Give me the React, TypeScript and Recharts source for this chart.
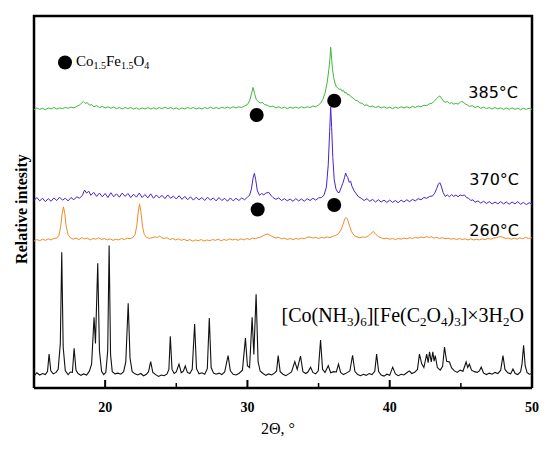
import React from "react";
import {
  ComposedChart,
  Line,
  Scatter,
  XAxis,
  YAxis,
  Customized,
} from "recharts";

// 2Θ positions of the axis ticks (labels only on the multiples of ten)
const xTicks = [20, 25, 30, 35, 40, 45, 50];

// outline of the plot box, in axis units (left, top, right edges)
const boxOutline: [number, number][] = [
  [15, 0],
  [15, 100],
  [50, 100],
  [50, 0],
];

// [Co(NH3)6][Fe(C2O4)3]·3H2O precursor
const precursor: [number, number][] = [
  [15.0, 3.2], [15.2, 4.1], [15.4, 3.5], [15.6, 3.9], [15.8, 3.6], [15.95, 4.5], [16.06, 9.1], [16.18, 4.6],
  [16.35, 3.8], [16.55, 4.2], [16.7, 5.0], [16.85, 12], [16.95, 36.5], [17.05, 11], [17.2, 4.6], [17.4, 3.6],
  [17.55, 4.3], [17.7, 4.2], [17.82, 10.7], [17.95, 4.8], [18.1, 3.9], [18.3, 3.4], [18.5, 3.8], [18.7, 3.5],
  [18.9, 4.6], [19.05, 6.5], [19.22, 19.0], [19.32, 12], [19.48, 33.5], [19.6, 10], [19.75, 4.5], [19.9, 3.6],
  [20.05, 4.2], [20.18, 10], [20.28, 38.3], [20.38, 9], [20.5, 4.4], [20.7, 3.8], [20.9, 4.0], [21.1, 3.7],
  [21.3, 4.4], [21.45, 7], [21.62, 22.8], [21.75, 8], [21.9, 4.4], [22.1, 3.8], [22.3, 3.5], [22.5, 3.9],
  [22.7, 3.3], [22.9, 3.7], [23.05, 4.4], [23.2, 7.1], [23.35, 4.2], [23.55, 3.6], [23.75, 3.1], [23.95, 3.5],
  [24.15, 3.3], [24.35, 3.8], [24.48, 5], [24.58, 13.9], [24.7, 5], [24.85, 3.9], [25.0, 4.3], [25.19, 6.4],
  [25.35, 4.1], [25.5, 4.5], [25.63, 5.9], [25.78, 4.2], [25.95, 3.9], [26.12, 5], [26.29, 17.2], [26.42, 5.2],
  [26.6, 3.8], [26.8, 4.1], [27.0, 3.7], [27.18, 5.2], [27.32, 18.8], [27.45, 5.5], [27.62, 4.0], [27.8, 3.7],
  [28.0, 4.0], [28.2, 3.6], [28.4, 4.3], [28.64, 8.7], [28.8, 4.6], [29.0, 3.7], [29.2, 3.5], [29.4, 3.9],
  [29.65, 4.8], [29.86, 13.4], [30.0, 6], [30.15, 5.5], [30.33, 19.0], [30.45, 9], [30.61, 25.2], [30.75, 7],
  [30.9, 4.5], [31.1, 3.9], [31.3, 3.4], [31.5, 3.8], [31.7, 3.5], [31.9, 4.0], [32.05, 4.6], [32.16, 8.7],
  [32.3, 4.4], [32.5, 3.7], [32.7, 3.3], [32.9, 3.8], [33.1, 4.3], [33.33, 7.1], [33.5, 5.0], [33.73, 8.6],
  [33.9, 4.4], [34.1, 3.9], [34.25, 4.3], [34.44, 5.6], [34.6, 4.2], [34.8, 3.8], [34.98, 4.6], [35.14, 12.9],
  [35.28, 5.0], [35.45, 4.2], [35.68, 6.0], [35.85, 4.1], [36.05, 4.4], [36.25, 4.3], [36.4, 6.4], [36.55, 4.2],
  [36.75, 3.6], [36.95, 4.0], [37.2, 4.6], [37.39, 8.8], [37.55, 4.5], [37.75, 3.6], [37.95, 3.3], [38.15, 3.7],
  [38.35, 3.4], [38.55, 3.9], [38.75, 3.6], [38.95, 4.5], [39.08, 9.1], [39.22, 4.4], [39.4, 3.5], [39.6, 3.2],
  [39.8, 3.7], [40.0, 3.4], [40.21, 5.6], [40.4, 3.8], [40.6, 3.3], [40.8, 3.7], [41.0, 3.5], [41.2, 4.1],
  [41.38, 4.6], [41.55, 3.9], [41.75, 4.2], [41.95, 5.0], [42.09, 9.1], [42.25, 6.5], [42.4, 5.5], [42.6, 9.1],
  [42.7, 6.8], [42.8, 9.7], [42.92, 7.0], [43.03, 9.7], [43.12, 7.2], [43.2, 8.7], [43.35, 5.5], [43.55, 4.8],
  [43.72, 5.8], [43.85, 11.0], [44.0, 7.2], [44.2, 7.0], [44.35, 5.4], [44.55, 4.6], [44.75, 4.2], [44.95, 4.8],
  [45.15, 4.5], [45.37, 7.0], [45.48, 5.5], [45.6, 6.4], [45.75, 4.8], [45.95, 4.4], [46.15, 4.2], [46.3, 4.6],
  [46.43, 5.6], [46.6, 4.0], [46.8, 3.6], [47.0, 4.0], [47.2, 3.7], [47.4, 4.2], [47.6, 3.9], [47.8, 4.8],
  [47.96, 8.7], [48.1, 5.0], [48.3, 4.1], [48.5, 3.8], [48.66, 5.1], [48.82, 3.9], [49.0, 3.6], [49.2, 4.4],
  [49.3, 6.5], [49.41, 11.5], [49.52, 6.0], [49.65, 4.2], [49.8, 3.7], [50.0, 3.9],
];

// 260 °C
const t260: [number, number][] = [
  [15.0, 39.5], [15.2, 39.9], [15.4, 39.6], [15.6, 40.0], [15.8, 39.7], [16.0, 40.1], [16.2, 39.8], [16.4, 40.2],
  [16.6, 40.3], [16.75, 41.0], [16.88, 43.5], [16.98, 47], [17.07, 48.7], [17.16, 47], [17.26, 43.5], [17.4, 41.2],
  [17.55, 40.4], [17.75, 40.0], [17.95, 40.3], [18.15, 39.9], [18.35, 40.4], [18.55, 40.1], [18.75, 40.3], [18.95, 39.8],
  [19.15, 40.2], [19.35, 40.0], [19.55, 40.4], [19.75, 39.9], [19.95, 40.2], [20.15, 39.8], [20.35, 40.1], [20.55, 39.7],
  [20.75, 40.0], [20.95, 39.8], [21.15, 40.2], [21.35, 39.9], [21.55, 40.3], [21.75, 40.1], [21.95, 40.5], [22.1, 41.2],
  [22.22, 43.5], [22.33, 47.5], [22.42, 49.5], [22.51, 47.5], [22.62, 43.5], [22.75, 41.3], [22.9, 40.5], [23.1, 40.2],
  [23.3, 40.4], [23.5, 40.6], [23.7, 40.5], [23.83, 40.9], [23.95, 40.4], [24.15, 40.2], [24.35, 40.4], [24.55, 39.9],
  [24.75, 40.2], [24.95, 39.8], [25.15, 40.1], [25.35, 39.7], [25.55, 40.0], [25.75, 39.6], [25.95, 39.9], [26.15, 39.5],
  [26.35, 39.8], [26.55, 39.6], [26.75, 39.9], [26.95, 39.5], [27.15, 39.8], [27.35, 39.6], [27.55, 39.9], [27.75, 39.7],
  [27.95, 40.0], [28.15, 39.6], [28.35, 39.9], [28.55, 39.7], [28.75, 40.1], [28.95, 39.8], [29.15, 40.0], [29.35, 39.7],
  [29.55, 40.1], [29.75, 39.8], [29.95, 40.2], [30.15, 39.9], [30.35, 40.3], [30.55, 40.1], [30.75, 40.4], [30.95, 40.6],
  [31.15, 41.0], [31.3, 41.3], [31.43, 41.4], [31.6, 41.0], [31.8, 40.6], [32.0, 40.3], [32.2, 40.5], [32.4, 40.1],
  [32.6, 40.3], [32.8, 39.9], [33.0, 40.2], [33.2, 39.9], [33.4, 40.2], [33.6, 40.0], [33.8, 40.3], [34.0, 40.1],
  [34.2, 40.5], [34.4, 40.6], [34.6, 40.3], [34.8, 40.5], [35.0, 40.2], [35.2, 40.5], [35.4, 40.3], [35.6, 40.6],
  [35.8, 40.4], [36.0, 40.8], [36.2, 41.0], [36.4, 41.5], [36.58, 42.5], [36.72, 44.0], [36.85, 45.5], [36.95, 45.8],
  [37.05, 45.2], [37.18, 43.5], [37.32, 42.0], [37.5, 41.0], [37.7, 40.6], [37.9, 40.4], [38.1, 40.6], [38.3, 40.5],
  [38.5, 40.9], [38.68, 41.5], [38.85, 42.1], [39.0, 41.4], [39.2, 40.7], [39.4, 40.4], [39.6, 40.1], [39.8, 40.3],
  [40.0, 40.0], [40.2, 40.2], [40.4, 39.9], [40.6, 40.2], [40.8, 40.0], [41.0, 40.3], [41.2, 40.1], [41.4, 40.4],
  [41.6, 40.2], [41.8, 40.5], [42.0, 40.3], [42.2, 40.6], [42.4, 40.4], [42.6, 40.7], [42.8, 40.4], [42.9, 40.7],
  [43.1, 40.3], [43.3, 40.5], [43.5, 40.2], [43.7, 40.4], [43.9, 40.1], [44.1, 40.3], [44.3, 40.0], [44.5, 40.2],
  [44.7, 39.9], [44.9, 40.2], [45.1, 39.9], [45.3, 40.1], [45.5, 39.8], [45.7, 40.1], [45.9, 39.8], [46.1, 40.0],
  [46.3, 39.8], [46.5, 40.1], [46.7, 39.9], [46.9, 40.2], [47.1, 40.0], [47.3, 40.3], [47.5, 40.4], [47.65, 40.6],
  [47.8, 40.7], [47.95, 40.5], [48.15, 40.2], [48.35, 40.3], [48.55, 40.0], [48.75, 40.3], [48.95, 40.0], [49.15, 40.4],
  [49.35, 40.1], [49.55, 40.5], [49.75, 40.2], [50.0, 40.4],
];

// 370 °C
const t370: [number, number][] = [
  [15.0, 50.4], [15.2, 51.2], [15.4, 50.3], [15.6, 51.0], [15.8, 50.1], [16.0, 50.9], [16.2, 50.2], [16.4, 51.1],
  [16.6, 50.4], [16.8, 51.3], [17.0, 50.5], [17.2, 51.0], [17.4, 50.3], [17.6, 51.2], [17.8, 50.6], [18.0, 51.4],
  [18.2, 51.0], [18.4, 51.8], [18.55, 53.2], [18.7, 52.4], [18.85, 52.9], [19.0, 51.8], [19.2, 52.6], [19.4, 51.5],
  [19.6, 52.4], [19.8, 51.4], [20.0, 52.3], [20.2, 51.2], [20.4, 52.5], [20.6, 51.4], [20.8, 52.2], [21.0, 51.3],
  [21.2, 52.4], [21.4, 51.5], [21.6, 52.3], [21.8, 51.2], [22.0, 52.1], [22.2, 51.3], [22.4, 52.4], [22.6, 51.2],
  [22.8, 52.0], [23.0, 51.1], [23.2, 52.2], [23.4, 51.0], [23.6, 51.9], [23.8, 51.1], [24.0, 51.8], [24.2, 50.9],
  [24.4, 51.9], [24.6, 51.0], [24.8, 51.6], [25.0, 50.8], [25.2, 51.7], [25.4, 50.7], [25.6, 51.5], [25.8, 50.6],
  [26.0, 51.4], [26.2, 50.5], [26.4, 51.3], [26.6, 50.6], [26.8, 51.2], [27.0, 50.4], [27.2, 51.3], [27.4, 50.5],
  [27.6, 51.1], [27.8, 50.3], [28.0, 51.2], [28.2, 50.4], [28.4, 51.0], [28.6, 50.2], [28.8, 51.1], [29.0, 50.3],
  [29.2, 51.0], [29.4, 50.4], [29.6, 51.1], [29.8, 50.6], [30.0, 51.3], [30.15, 51.8], [30.28, 53.5], [30.4, 56.5],
  [30.49, 57.7], [30.58, 56.0], [30.7, 53.0], [30.85, 51.8], [31.0, 52.3], [31.15, 51.9], [31.3, 52.4], [31.5, 52.6],
  [31.65, 51.8], [31.8, 51.2], [32.0, 50.7], [32.2, 51.1], [32.4, 50.4], [32.6, 50.9], [32.8, 50.3], [33.0, 50.8],
  [33.2, 50.2], [33.4, 50.9], [33.6, 50.3], [33.8, 50.8], [34.0, 50.2], [34.2, 50.9], [34.4, 50.4], [34.6, 51.0],
  [34.8, 50.5], [35.0, 51.1], [35.2, 51.2], [35.38, 51.8], [35.55, 54.0], [35.68, 60.0], [35.78, 69.0], [35.85, 75.5],
  [35.92, 70.0], [36.0, 62.0], [36.1, 56.0], [36.22, 53.5], [36.35, 52.6], [36.45, 52.5], [36.58, 53.8], [36.7, 55.0],
  [36.82, 56.5], [36.9, 57.8], [36.98, 57.0], [37.05, 56.6], [37.15, 55.3], [37.25, 55.6], [37.35, 54.2], [37.5, 53.0],
  [37.65, 52.2], [37.8, 51.4], [38.0, 51.0], [38.2, 50.4], [38.4, 50.9], [38.6, 50.2], [38.8, 50.7], [39.0, 50.0],
  [39.2, 50.6], [39.4, 50.0], [39.6, 50.5], [39.8, 49.9], [40.0, 50.5], [40.2, 49.9], [40.4, 50.4], [40.6, 49.8],
  [40.8, 50.5], [41.0, 50.0], [41.2, 50.6], [41.4, 50.1], [41.6, 50.7], [41.8, 50.3], [42.0, 50.9], [42.2, 50.6],
  [42.4, 51.2], [42.6, 51.0], [42.8, 51.5], [43.0, 51.6], [43.15, 52.3], [43.3, 53.6], [43.42, 54.8], [43.52, 55.2],
  [43.62, 54.3], [43.75, 52.6], [43.9, 51.5], [44.05, 51.9], [44.2, 51.4], [44.35, 52.0], [44.5, 51.5], [44.65, 51.9],
  [44.8, 51.4], [44.95, 51.9], [45.1, 51.7], [45.25, 51.9], [45.4, 51.2], [45.55, 51.0], [45.7, 50.4], [45.85, 50.6],
  [46.0, 49.9], [46.2, 50.3], [46.4, 49.7], [46.6, 50.2], [46.8, 49.6], [47.0, 50.1], [47.2, 49.5], [47.4, 50.0],
  [47.6, 49.5], [47.8, 50.1], [48.0, 49.5], [48.2, 50.0], [48.4, 49.4], [48.6, 50.0], [48.8, 49.5], [49.0, 50.1],
  [49.2, 49.4], [49.4, 49.9], [49.6, 49.3], [49.8, 49.8], [50.0, 49.4],
];

// 385 °C
const t385: [number, number][] = [
  [15.0, 74.8], [15.2, 75.3], [15.4, 74.9], [15.6, 75.2], [15.8, 74.8], [16.0, 75.3], [16.2, 75.0], [16.4, 75.4],
  [16.6, 75.0], [16.8, 75.3], [17.0, 75.1], [17.2, 75.4], [17.4, 75.2], [17.6, 75.5], [17.8, 75.3], [18.0, 75.7],
  [18.2, 76.1], [18.35, 76.6], [18.47, 77.0], [18.6, 76.5], [18.75, 76.7], [18.9, 76.0], [19.05, 76.2], [19.2, 75.6],
  [19.4, 75.9], [19.6, 75.4], [19.8, 75.7], [20.0, 75.3], [20.2, 75.6], [20.4, 75.2], [20.6, 75.5], [20.8, 75.1],
  [21.0, 75.4], [21.2, 75.0], [21.4, 75.4], [21.6, 75.1], [21.8, 75.4], [22.0, 75.0], [22.2, 75.3], [22.4, 74.9],
  [22.6, 75.3], [22.8, 75.0], [23.0, 75.4], [23.2, 75.0], [23.4, 75.3], [23.6, 75.0], [23.8, 75.4], [24.0, 75.1],
  [24.2, 75.5], [24.4, 75.1], [24.6, 75.4], [24.8, 75.0], [25.0, 75.3], [25.2, 74.9], [25.4, 75.3], [25.6, 75.0],
  [25.8, 75.4], [26.0, 75.1], [26.2, 75.4], [26.4, 75.0], [26.6, 75.3], [26.8, 75.0], [27.0, 75.4], [27.2, 75.1],
  [27.4, 75.5], [27.6, 75.1], [27.8, 75.4], [28.0, 75.1], [28.2, 75.5], [28.4, 75.2], [28.6, 75.5], [28.8, 75.2],
  [29.0, 75.6], [29.2, 75.3], [29.4, 75.6], [29.6, 75.4], [29.8, 75.8], [30.0, 76.2], [30.15, 77.2], [30.28, 79.0],
  [30.4, 80.8], [30.5, 79.2], [30.62, 77.6], [30.75, 77.0], [30.9, 76.6], [31.05, 76.8], [31.2, 76.2], [31.4, 76.0],
  [31.6, 75.6], [31.8, 75.8], [32.0, 75.3], [32.2, 75.6], [32.4, 75.2], [32.6, 75.5], [32.8, 75.1], [33.0, 75.5],
  [33.2, 75.2], [33.4, 75.5], [33.6, 75.2], [33.8, 75.6], [34.0, 75.3], [34.2, 75.6], [34.4, 75.4], [34.6, 75.8],
  [34.8, 75.6], [35.0, 76.1], [35.15, 76.6], [35.3, 77.6], [35.45, 79.2], [35.6, 82.0], [35.72, 85.5], [35.8, 88.5],
  [35.85, 91.6], [35.9, 89.5], [35.97, 86.0], [36.06, 83.5], [36.15, 82.0], [36.25, 81.0], [36.35, 80.6], [36.45, 80.3],
  [36.55, 80.4], [36.65, 79.8], [36.75, 80.0], [36.85, 79.3], [36.95, 79.4], [37.05, 78.8], [37.15, 78.9], [37.3, 78.2],
  [37.45, 77.9], [37.6, 77.3], [37.75, 77.2], [37.9, 76.6], [38.05, 76.6], [38.2, 76.0], [38.4, 76.1], [38.6, 75.6],
  [38.8, 75.8], [39.0, 75.4], [39.2, 75.7], [39.4, 75.3], [39.6, 75.6], [39.8, 75.2], [40.0, 75.5], [40.2, 75.1],
  [40.4, 75.5], [40.6, 75.2], [40.8, 75.6], [41.0, 75.3], [41.2, 75.6], [41.4, 75.3], [41.6, 75.7], [41.8, 75.4],
  [42.0, 75.8], [42.2, 75.6], [42.4, 76.0], [42.6, 75.9], [42.8, 76.4], [43.0, 76.6], [43.15, 77.2], [43.3, 77.8],
  [43.42, 78.3], [43.52, 78.5], [43.62, 78.0], [43.75, 77.2], [43.9, 76.8], [44.05, 77.0], [44.2, 76.5], [44.35, 76.7],
  [44.5, 76.3], [44.65, 76.5], [44.8, 76.3], [44.95, 76.8], [45.05, 77.0], [45.15, 76.9], [45.3, 76.4], [45.45, 76.1],
  [45.6, 75.7], [45.8, 75.9], [46.0, 75.4], [46.2, 75.7], [46.4, 75.2], [46.6, 75.5], [46.8, 75.1], [47.0, 75.4],
  [47.2, 75.0], [47.4, 75.4], [47.6, 75.0], [47.8, 75.3], [48.0, 74.9], [48.2, 75.3], [48.4, 74.9], [48.6, 75.3],
  [48.8, 74.9], [49.0, 75.2], [49.2, 74.8], [49.4, 75.2], [49.6, 74.9], [49.8, 75.2], [50.0, 74.9],
];

// Co1.5Fe1.5O4 reflections marked with black dots
const spinelMarks: [number, number][] = [
  [30.65, 73.4],
  [36.1, 77.2],
  [30.72, 48.0],
  [36.1, 49.2],
];

const toRows = (pts: [number, number][]) => pts.map(([x, y]) => ({ x, y }));

const serif = "'Liberation Serif', 'Times New Roman', serif";
const sans = "'DejaVu Sans', sans-serif";

function XTick(props: any) {
  const { x, y, payload } = props;
  const major = payload.value % 10 === 0;
  return (
    <g>
      <rect
        x={x - (major ? 1 : 0.75)}
        y={y - (major ? 8 : 5)}
        width={major ? 2 : 1.5}
        height={major ? 8 : 5}
        fill="#000"
      />
      {major && (
        <text
          x={x}
          y={y + 24}
          textAnchor="middle"
          fontFamily={serif}
          fontWeight="bold"
          fontSize={14}
          fill="#000"
        >
          {payload.value}
        </text>
      )}
    </g>
  );
}

function Annotations() {
  return (
    <g>
      {/* legend */}
      <circle cx={65} cy={62.5} r={7} fill="#000" />
      <text x={76} y={66} fontFamily={serif} fontSize={15} fill="#000">
        <tspan>Co</tspan>
        <tspan dy={3} fontSize={10}>1.5</tspan>
        <tspan dy={-3}>Fe</tspan>
        <tspan dy={3} fontSize={10}>1.5</tspan>
        <tspan dy={-3}>O</tspan>
        <tspan dy={3} fontSize={10}>4</tspan>
      </text>

      {/* curve labels */}
      <text x={518} y={98} textAnchor="end" fontFamily={sans} fontSize={16} fill="#000">
        385°C
      </text>
      <text x={519} y={185} textAnchor="end" fontFamily={sans} fontSize={16} fill="#000">
        370°C
      </text>
      <text x={519} y={236} textAnchor="end" fontFamily={sans} fontSize={16} fill="#000">
        260°C
      </text>
      <text x={524} y={321.5} textAnchor="end" fontFamily={serif} fontSize={20} fill="#000">
        <tspan>[Co(NH</tspan>
        <tspan dy={4} fontSize={13}>3</tspan>
        <tspan dy={-4}>)</tspan>
        <tspan dy={4} fontSize={13}>6</tspan>
        <tspan dy={-4}>][Fe(C</tspan>
        <tspan dy={4} fontSize={13}>2</tspan>
        <tspan dy={-4}>O</tspan>
        <tspan dy={4} fontSize={13}>4</tspan>
        <tspan dy={-4}>)</tspan>
        <tspan dy={4} fontSize={13}>3</tspan>
        <tspan dy={-4}>]×3H</tspan>
        <tspan dy={4} fontSize={13}>2</tspan>
        <tspan dy={-4}>O</tspan>
      </text>

      {/* axis titles */}
      <text x={278} y={434} textAnchor="middle" fontFamily={serif} fontSize={16} fill="#000">
        2Θ, °
      </text>
      <text
        transform="translate(27 209) rotate(-90)"
        textAnchor="middle"
        fontFamily={serif}
        fontWeight="bold"
        fontSize={16}
        fill="#000"
      >
        Relative intesity
      </text>
    </g>
  );
}

export default function App() {
  return (
    <div style={{ width: 550, height: 460, background: "#fff" }}>
      <style>{"body{margin:0}"}</style>
      <ComposedChart
        width={550}
        height={460}
        margin={{ top: 16, right: 18, bottom: 0, left: 33 }}
      >
        <XAxis
          type="number"
          dataKey="x"
          domain={[15, 50]}
          ticks={xTicks}
          interval={0}
          tickSize={0}
          tickMargin={0}
          tickLine={false}
          tick={<XTick />}
          axisLine={{ stroke: "#000", strokeWidth: 2.5 }}
          height={72}
        />
        <YAxis
          type="number"
          domain={[0, 100]}
          width={1}
          tick={false}
          tickLine={false}
          axisLine={false}
        />
        {/* plot box outline */}
        <Line
          data={toRows(boxOutline)}
          dataKey="y"
          type="linear"
          stroke="#000"
          strokeWidth={2.5}
          strokeLinejoin="miter"
          dot={false}
          activeDot={false}
          isAnimationActive={false}
        />
        <Line
          data={toRows(precursor)}
          dataKey="y"
          type="linear"
          stroke="#111"
          strokeWidth={1.1}
          dot={false}
          isAnimationActive={false}
        />
        <Line
          data={toRows(t260)}
          dataKey="y"
          type="linear"
          stroke="#ee8c26"
          strokeWidth={1}
          dot={false}
          isAnimationActive={false}
        />
        <Line
          data={toRows(t370)}
          dataKey="y"
          type="linear"
          stroke="#4b22cc"
          strokeWidth={1}
          dot={false}
          isAnimationActive={false}
        />
        <Line
          data={toRows(t385)}
          dataKey="y"
          type="linear"
          stroke="#3cb83c"
          strokeWidth={1}
          dot={false}
          isAnimationActive={false}
        />
        <Scatter
          data={toRows(spinelMarks)}
          dataKey="y"
          isAnimationActive={false}
          shape={(p: any) => <circle cx={p.cx} cy={p.cy} r={7} fill="#000" />}
        />
        <Customized component={<Annotations />} />
      </ComposedChart>
    </div>
  );
}
